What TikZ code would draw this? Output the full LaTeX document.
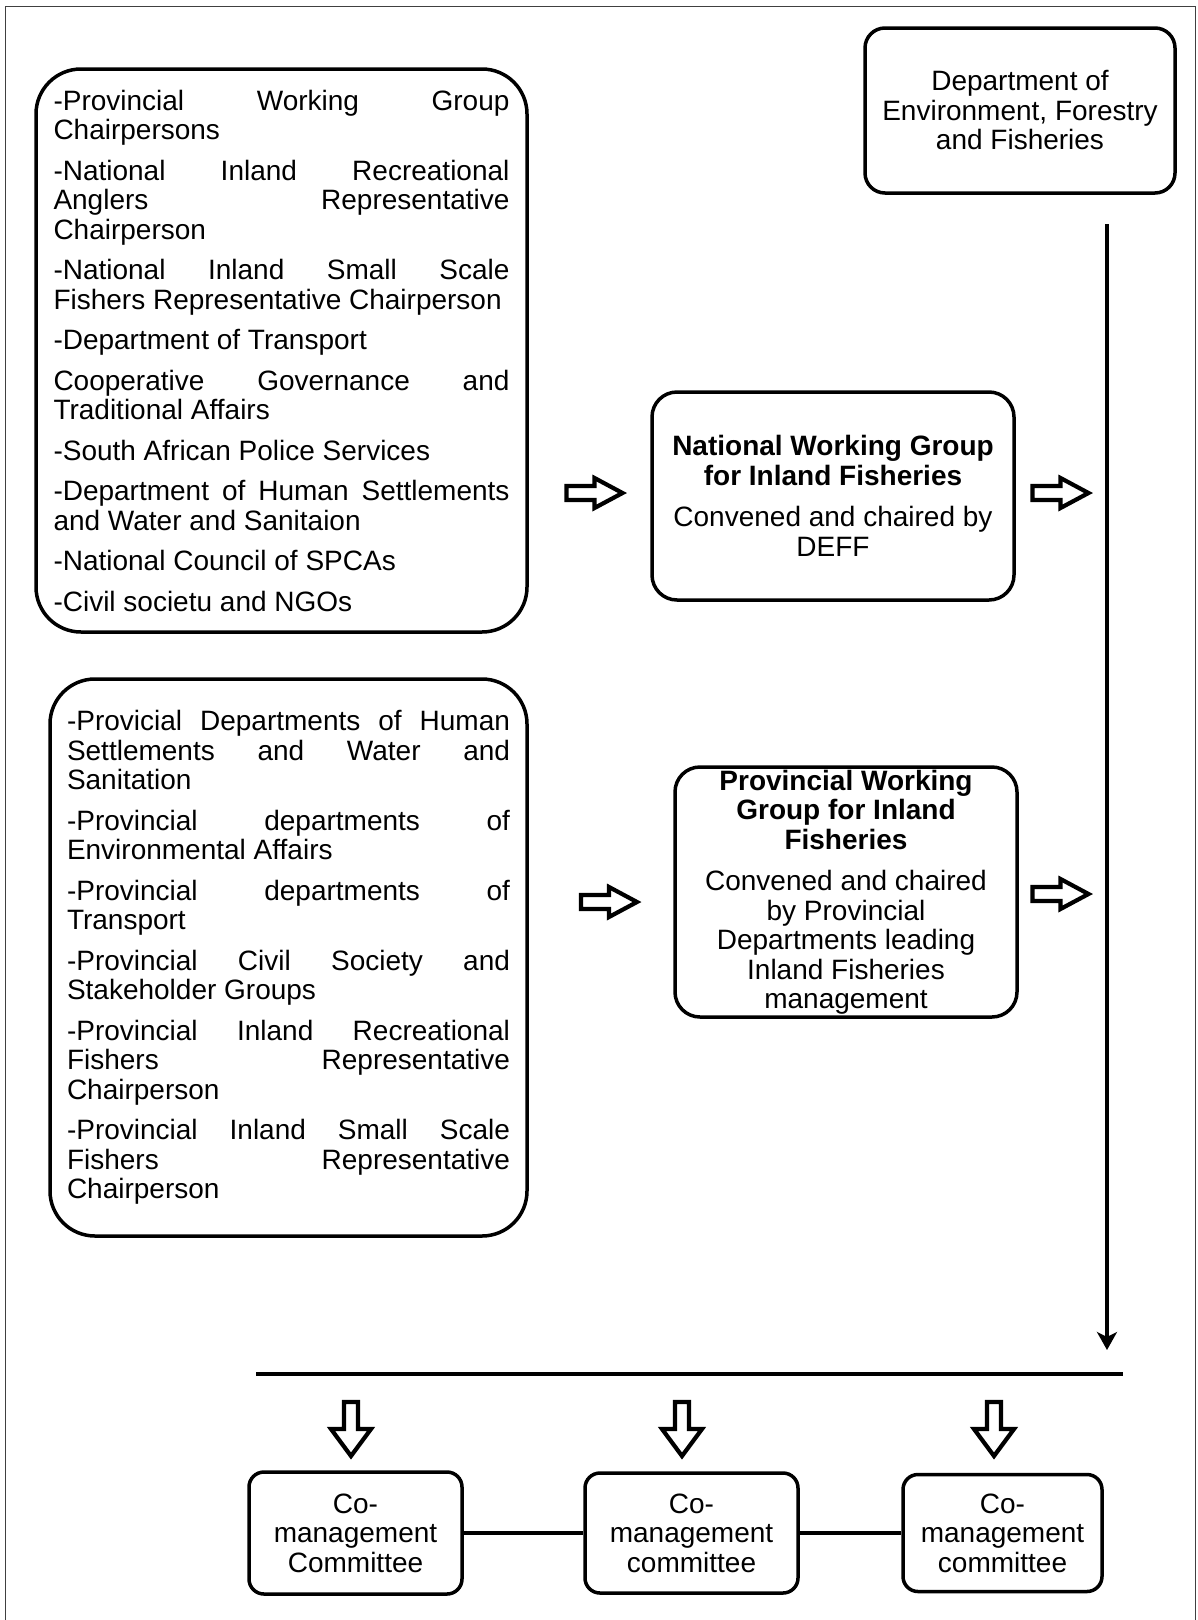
\documentclass[tikz,border=0pt]{standalone}
\usepackage{fontspec}
\setmainfont{Liberation Sans}
\usetikzlibrary{arrows.meta}
\newcommand\jl[1]{\hbox to\hsize{#1}}
\newcommand\nl[1]{\hbox{#1}}
\newcommand\gap{\vskip 11pt}
\begin{document}
\begin{tikzpicture}[x=1pt,y=-1pt,
  every node/.style={font=\fontsize{28}{29.5}\selectfont},
  box/.style={draw, line width=3.5pt, rounded corners=#1, inner sep=0pt, align=center},
  box/.default=20pt,
  conn/.style={line width=3.5pt},
  blk/.style={draw, line width=4.2pt, line join=miter, fill=white},
  rarr/.pic={\path[blk] (-28,-7) -- (0,-7) -- (0,-15) -- (28,0) -- (0,15) -- (0,7) -- (-28,7) -- cycle;},
  darr/.pic={\path[blk] (-7,-27) -- (7,-27) -- (7,0) -- (20,0) -- (0,27) -- (-20,0) -- (-7,0) -- cycle;},
  frame/.style={line width=1.2pt, black!75}
]
\useasboundingbox (0,0) rectangle (1198,1620);
% outer frame (open at bottom)
\draw[frame] (5.5,1620) -- (5.5,6.5) -- (1195.5,6.5) -- (1195.5,1620);

% national members list
\node[box=45pt, minimum width=491pt, minimum height=563pt] (natlist) at (281.5,350.5) {\vbox{\hsize=456pt
\jl{-Provincial Working Group}
\nl{Chairpersons}\gap
\jl{-National Inland Recreational}
\jl{Anglers Representative}
\nl{Chairperson}\gap
\jl{-National Inland Small Scale}
\nl{Fishers Representative Chairperson}\gap
\nl{-Department of Transport}\gap
\jl{Cooperative Governance and}
\nl{Traditional Affairs}\gap
\nl{-South African Police Services}\gap
\jl{-Department of Human Settlements}
\nl{and Water and Sanitaion}\gap
\nl{-National Council of SPCAs}\gap
\nl{-Civil societu and NGOs}}};

% provincial members list
\node[box=45pt, minimum width=477pt, minimum height=557pt] (provlist) at (288.5,957.5) {\vbox{\hsize=443pt
\jl{-Provicial Departments of Human}
\jl{Settlements and Water and}
\nl{Sanitation}\gap
\jl{-Provincial departments of}
\nl{Environmental Affairs}\gap
\jl{-Provincial departments of}
\nl{Transport}\gap
\jl{-Provincial Civil Society and}
\nl{Stakeholder Groups}\gap
\jl{-Provincial Inland Recreational}
\jl{Fishers Representative}
\nl{Chairperson}\gap
\jl{-Provincial Inland Small Scale}
\jl{Fishers Representative}
\nl{Chairperson}}};

% DEFF
\node[box=20pt, minimum width=310pt, minimum height=165pt] (deff) at (1020,110.5)
  {Department of\\Environment, Forestry\\and Fisheries};

% National working group
\node[box=25pt, minimum width=362pt, minimum height=208pt] (nwg) at (833,496)
  {\textbf{National Working Group}\\\textbf{for Inland Fisheries}\\[12pt]Convened and chaired by\\DEFF};

% Provincial working group
\node[box=25pt, minimum width=342pt, minimum height=250pt] (pwg) at (846,892)
  {\textbf{Provincial Working}\\\textbf{Group for Inland}\\\textbf{Fisheries}\\[12pt]Convened and chaired\\by Provincial\\Departments leading\\Inland Fisheries\\management};

% co-management committees
\node[box=15pt, minimum width=213pt, minimum height=122pt] (cmA) at (355.5,1533) {Co-\\management\\Committee};
\node[box=15pt, minimum width=213pt, minimum height=120pt] (cmB) at (691.5,1533) {Co-\\management\\committee};
\node[box=15pt, minimum width=199pt, minimum height=117pt] (cmC) at (1002.5,1533) {Co-\\management\\committee};

% block arrows
\pic (ar1) at (594.5,493) {rarr};
\pic (ar2) at (1060.5,493) {rarr};
\pic (ar3) at (609,902) {rarr};
\pic (ar4) at (1060.5,894) {rarr};
\pic (dn1) at (351,1429) {darr};
\pic (dn2) at (682,1429) {darr};
\pic (dn3) at (994,1429) {darr};

% vertical line with arrow
\coordinate (vtop) at (1107,224);
\coordinate (vbot) at (1107,1350);
\draw[line width=4pt, -{Stealth[length=18pt,width=20pt,inset=5pt]}] (vtop) -- (vbot);

% horizontal distribution line
\coordinate (hlL) at (256,1374);
\coordinate (hlR) at (1123,1374);
\draw[line width=4pt] (hlL) -- (hlR);

% links between committees
\draw[conn] (cmA.east) -- (cmB.west);
\draw[conn] (cmB.east) -- (cmC.west);
\end{tikzpicture}
\end{document}
